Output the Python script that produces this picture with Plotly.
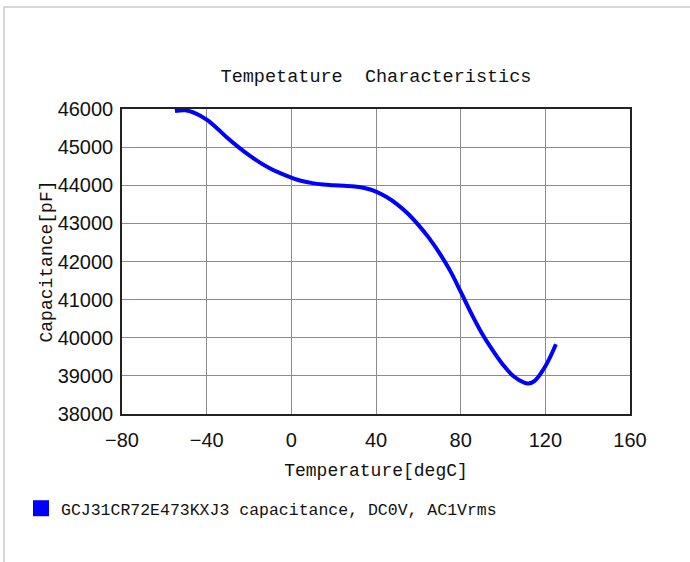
import plotly.graph_objects as go

temperature_degC = [-55, -50, -45, -40, -35, -30, -25, -20, -15, -10, -5, 0, 5, 10, 15, 20, 25, 30,
                    35, 40, 45, 50, 55, 60, 65, 70, 75, 80, 85, 90, 95, 100, 105, 110, 112, 115, 120, 125]
capacitance_pF = [45945, 45965, 45880, 45720, 45490, 45230, 45000, 44790, 44600, 44440, 44310, 44200,
                  44110, 44055, 44020, 44000, 43985, 43965, 43920, 43835, 43690, 43500, 43260, 42960,
                  42620, 42220, 41760, 41210, 40640, 40120, 39680, 39290, 38990, 38820, 38800, 38870,
                  39250, 39830]
series_name = "GCJ31CR72E473KXJ3 capacitance, DC0V, AC1Vrms"
x_ticks = [-80, -40, 0, 40, 80, 120, 160]
y_ticks = [38000, 39000, 40000, 41000, 42000, 43000, 44000, 45000, 46000]

BLUE = "#0000ff"
MONO = "Liberation Mono, DejaVu Sans Mono, monospace"
SANS = "Liberation Sans, Arial, sans-serif"

fig = go.Figure()
fig.add_trace(go.Scatter(x=temperature_degC, y=capacitance_pF, mode="lines",
                         line=dict(color=BLUE, width=4, shape="spline", smoothing=1.0),
                         showlegend=False, name=series_name))
fig.add_trace(go.Scatter(x=[None], y=[None], mode="markers", name=series_name,
                         marker=dict(symbol="square", size=16, color=BLUE),
                         showlegend=True))

W, H = 690, 562
L, R, T, B = 122, 60, 109, 148
pw, ph = W - L - R, H - T - B

def px2paper_x(px):
    return (px - L) / pw

def py2paper_y(py):
    return (H - B - py) / ph

fig.update_layout(
    width=W, height=H,
    margin=dict(l=L, r=R, t=T, b=B, pad=0),
    paper_bgcolor="white", plot_bgcolor="white",
    title=dict(text="Tempetature  Characteristics", x=0.5, xref="paper",
               y=1 - 76 / H, yref="container", yanchor="middle", xanchor="center",
               font=dict(family=MONO, size=18.5, color="#111")),
    xaxis=dict(range=[-80, 160], tickvals=x_ticks, showgrid=True, gridcolor="#8c8c8c",
               gridwidth=1.2, zeroline=False, showline=True, linecolor="#222", linewidth=1.5,
               mirror=True, ticks="", tickfont=dict(family=SANS, size=20, color="#111"),
               ticklabelstandoff=7,
               title=dict(text="Temperature[degC]", font=dict(family=MONO, size=18, color="#111"),
                          standoff=14)),
    yaxis=dict(range=[38000, 46000], tickvals=y_ticks, showgrid=True, gridcolor="#8c8c8c",
               gridwidth=1.2, zeroline=False, showline=True, linecolor="#222", linewidth=1.5,
               mirror=True, ticks="", tickfont=dict(family=SANS, size=20, color="#111"),
               ticklabelstandoff=3, tickformat="d",
               title=dict(text="Capacitance[pF]", font=dict(family=MONO, size=18, color="#111"),
                          standoff=0)),
    legend=dict(x=px2paper_x(21), y=py2paper_y(491), xanchor="left", yanchor="top",
                orientation="h", font=dict(family=MONO, size=16.5, color="#111"),
                itemsizing="trace", bgcolor="rgba(0,0,0,0)", itemwidth=30),
    shapes=[dict(type="rect", xref="paper", yref="paper",
                 x0=px2paper_x(4), x1=px2paper_x(720), y0=py2paper_y(600), y1=py2paper_y(7),
                 line=dict(color="#cccccc", width=1.5), fillcolor="rgba(0,0,0,0)", layer="below")],
)

fig.write_html("out.html", config={"displayModeBar": False},
               post_script="document.body.style.margin='0';")
